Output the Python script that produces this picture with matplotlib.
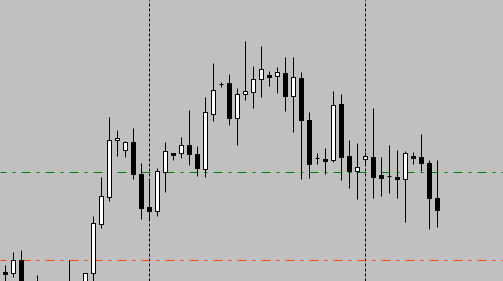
import numpy as np
import matplotlib
matplotlib.use("Agg")
import matplotlib.pyplot as plt

# OHLC bars (one per index); the first few sit below the visible range
opens = [1.3009, 1.3008, 1.3021, 1.2981, 1.2991, 1.2976, 1.2986, 1.2971, 1.2981, 1.2996,
         1.2981, 1.3008, 1.3057, 1.3084, 1.3141, 1.3131, 1.3139, 1.3107, 1.3074, 1.3070,
         1.3109, 1.3128, 1.3128, 1.3136, 1.3127, 1.3112, 1.3167, 1.3197, 1.3198, 1.3163,
         1.3187, 1.3189, 1.3202, 1.3206, 1.3205, 1.3208, 1.3185, 1.3203, 1.3161, 1.3123,
         1.3122, 1.3121, 1.3177, 1.3125, 1.3110, 1.3122, 1.3124, 1.3106, 1.3105, 1.3104,
         1.3102, 1.3125, 1.3124, 1.3118, 1.3083]
highs = [1.3016, 1.3029, 1.3031, 1.2991, 1.3006, 1.2993, 1.2996, 1.2997, 1.3021, 1.2998,
         1.3008, 1.3065, 1.3104, 1.3164, 1.3151, 1.3140, 1.3153, 1.3118, 1.3100, 1.3113,
         1.3139, 1.3128, 1.3144, 1.3171, 1.3135, 1.3184, 1.3218, 1.3199, 1.3207, 1.3193,
         1.3240, 1.3215, 1.3235, 1.3210, 1.3214, 1.3224, 1.3224, 1.3209, 1.3169, 1.3128,
         1.3133, 1.3190, 1.3187, 1.3141, 1.3138, 1.3129, 1.3173, 1.3124, 1.3136, 1.3131,
         1.3130, 1.3129, 1.3147, 1.3121, 1.3121]
lows = [1.2991, 1.3004, 1.2976, 1.2961, 1.2971, 1.2969, 1.2966, 1.2963, 1.2976, 1.2975,
        1.2977, 1.2996, 1.3053, 1.3080, 1.3125, 1.3124, 1.3102, 1.3062, 1.3061, 1.3065,
        1.3089, 1.3121, 1.3123, 1.3116, 1.3105, 1.3104, 1.3160, 1.3194, 1.3156, 1.3136,
        1.3181, 1.3173, 1.3184, 1.3195, 1.3188, 1.3170, 1.3149, 1.3102, 1.3103, 1.3117,
        1.3107, 1.3119, 1.3101, 1.3093, 1.3082, 1.3117, 1.3083, 1.3085, 1.3088, 1.3083,
        1.3059, 1.3117, 1.3110, 1.3052, 1.3054]
closes = [1.3007, 1.3021, 1.2981, 1.2966, 1.2976, 1.2986, 1.2971, 1.2991, 1.2996, 1.2981,
          1.3008, 1.3058, 1.3085, 1.3141, 1.3143, 1.3139, 1.3107, 1.3073, 1.3070, 1.3110,
          1.3130, 1.3126, 1.3136, 1.3127, 1.3113, 1.3169, 1.3191, 1.3197, 1.3163, 1.3187,
          1.3190, 1.3202, 1.3212, 1.3204, 1.3209, 1.3185, 1.3204, 1.3161, 1.3117, 1.3123,
          1.3120, 1.3176, 1.3124, 1.3110, 1.3114, 1.3125, 1.3104, 1.3103, 1.3105, 1.3102,
          1.3128, 1.3123, 1.3118, 1.3083, 1.3071]

# horizontal levels and separator bars
level_green = 1.3109
level_red = 1.3021
separator_bars = [18, 45]

PX = 0.72  # one pixel in points at dpi 100
bg = "#C0C0C0"

fig = plt.figure(figsize=(5.03, 2.81), dpi=100, facecolor=bg)
ax = fig.add_axes([0, 0, 1, 1])
ax.set_facecolor(bg)

o = np.array(opens)
h = np.array(highs)
l = np.array(lows)
c = np.array(closes)
x = np.arange(len(o))
up = c > o
down = c < o
flat = c == o
body_w = 0.5

# levels behind the candles
dashdot = (3, (9, 6, 3, 6))
ax.axhline(level_green, color="#008000", lw=PX, linestyle=dashdot, zorder=1)
ax.axhline(level_red, color="#FF4500", lw=PX, linestyle=dashdot, zorder=1)
for b in separator_bars:
    ax.axvline(b, color="black", lw=PX, linestyle=(0, (3, 2)), zorder=1)

# wicks, then bodies
ax.vlines(x, l, h, color="black", lw=PX, zorder=2)
ax.bar(x[up], c[up] - o[up], bottom=o[up], width=body_w,
       facecolor="white", edgecolor="black", linewidth=PX, zorder=3)
ax.bar(x[down], o[down] - c[down], bottom=c[down], width=body_w,
       facecolor="black", edgecolor="black", linewidth=PX, zorder=3)
ax.hlines(c[flat], x[flat] - body_w / 2, x[flat] + body_w / 2, color="black", lw=PX, zorder=3)

ax.set_xlim(-0.6625, 62.21)
ax.set_ylim(1.3000, 1.3281)
ax.axis("off")

fig.savefig("out.png", dpi=100, facecolor=bg)
plt.close(fig)
